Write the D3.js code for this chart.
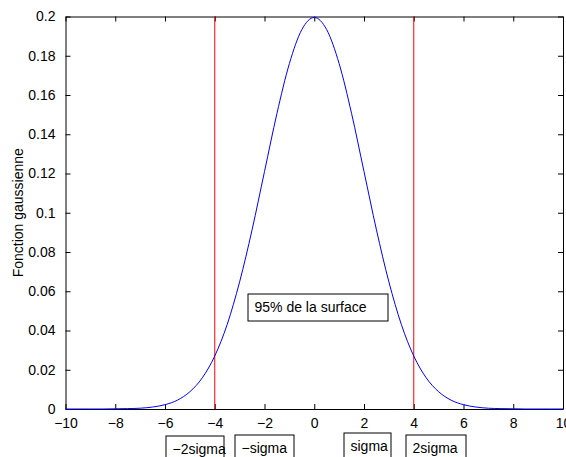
<!DOCTYPE html>
<html>
<head>
<meta charset="utf-8">
<script src="https://cdn.jsdelivr.net/npm/d3@7"></script>
<style>
  body { margin: 0; background: #fff; }
  text { font-family: "Liberation Sans", Arial, sans-serif; }
</style>
</head>
<body>
<div id="chart"></div>
<script>
// curve (x, gaussian value)
const xs = [-10, -9.5, -9, -8.5, -8, -7.5, -7, -6.5, -6, -5.5, -5, -4.5, -4, -3.5, -3, -2.5, -2, -1.5, -1, -0.5,
            0, 0.5, 1, 1.5, 2, 2.5, 3, 3.5, 4, 4.5, 5, 5.5, 6, 6.5, 7, 7.5, 8, 8.5, 9, 9.5, 10];
const ys = [0, 0, 0, 0, 0.0001, 0.0002, 0.0004, 0.0010, 0.0022, 0.0045, 0.0088, 0.0159, 0.0270, 0.0431, 0.0648, 0.0913, 0.1210, 0.1506, 0.1760, 0.1933,
            0.1995, 0.1933, 0.1760, 0.1506, 0.1210, 0.0913, 0.0648, 0.0431, 0.0270, 0.0159, 0.0088, 0.0045, 0.0022, 0.0010, 0.0004, 0.0002, 0.0001, 0, 0, 0, 0];
const redLines = [-4, 4];
const xTicks = [-10, -8, -6, -4, -2, 0, 2, 4, 6, 8, 10];
const yTicks = [0, 0.02, 0.04, 0.06, 0.08, 0.1, 0.12, 0.14, 0.16, 0.18, 0.2];
// text boxes: left / right edge x and top y in data units
const boxLabels = ["\u22122sigma", "\u2212sigma", "sigma", "2sigma"];
const boxX0 = [-6, -3.22, 1.17, 3.66];
const boxX1 = [-3.66, -0.85, 3.06, 6.08];
const boxY = [-0.0133, -0.0128, -0.0122, -0.0128];
const noteLabel = "95% de la surface";
const noteX0 = -2.7, noteX1 = 2.94;
const noteY = 0.0588;

const margin = { top: 16.5, right: 3, bottom: 48, left: 65.5 };
const W = 566, H = 457;
const width = W - margin.left - margin.right;
const height = H - margin.top - margin.bottom;

const svg = d3.select("#chart").append("svg")
    .attr("width", W).attr("height", H);
const g = svg.append("g")
    .attr("transform", "translate(" + margin.left + "," + margin.top + ")");

const x = d3.scaleLinear().domain([-10, 10]).range([0, width]);
const y = d3.scaleLinear().domain([0, 0.2]).range([height, 0]);

// axes with inward ticks
const fmt = d => (d < 0 ? "\u2212" + Math.abs(d) : String(d));
g.append("g").attr("transform", "translate(0," + height + ")")
  .call(d3.axisBottom(x).tickValues(xTicks).tickSizeInner(-5).tickSizeOuter(0).tickPadding(9).tickFormat(fmt));
g.append("g")
  .call(d3.axisLeft(y).tickValues(yTicks).tickSizeInner(-5).tickSizeOuter(0).tickPadding(10).tickFormat(d => String(+d.toFixed(2))));
g.append("g")
  .call(d3.axisTop(x).tickValues(xTicks).tickSizeInner(-5).tickSizeOuter(0).tickFormat(""));
g.append("g").attr("transform", "translate(" + width + ",0)")
  .call(d3.axisRight(y).tickValues(yTicks).tickSizeInner(-5).tickSizeOuter(0).tickFormat(""));
g.selectAll(".domain").attr("stroke", "#000");
g.selectAll(".tick line").attr("stroke", "#000");
g.selectAll(".tick text").attr("font-size", 14).attr("fill", "#000")
  .style("font-family", "Liberation Sans, Arial, sans-serif");

// red lines
g.selectAll(".red").data(redLines).enter().append("line")
  .attr("x1", d => x(d)).attr("x2", d => x(d))
  .attr("y1", 0).attr("y2", height)
  .attr("stroke", "#ff0000").attr("stroke-width", 1);

// gaussian curve
const pts = xs.map((v, i) => [v, ys[i]]);
g.append("path").datum(pts)
  .attr("fill", "none").attr("stroke", "#0000ff").attr("stroke-width", 1)
  .attr("d", d3.line().x(d => x(d[0])).y(d => y(d[1])).curve(d3.curveMonotoneX));

// boxed text
function boxText(label, bx0, bx1, by) {
  const bg = g.append("g").attr("transform", "translate(" + Math.round(x(bx0)) + "," + Math.round(y(by)) + ")");
  bg.append("rect")
    .attr("x", 0.5).attr("y", 0.5)
    .attr("width", Math.round(x(bx1) - x(bx0))).attr("height", 27)
    .attr("fill", "#fff").attr("stroke", "#000").attr("stroke-width", 1);
  bg.append("text")
    .attr("x", 7).attr("y", 18)
    .attr("font-size", 14).attr("fill", "#000").text(label);
}
boxLabels.forEach((l, i) => boxText(l, boxX0[i], boxX1[i], boxY[i]));
boxText(noteLabel, noteX0, noteX1, noteY);

// y label
svg.append("text")
  .attr("transform", "translate(23," + (margin.top + height / 2) + ") rotate(-90)")
  .attr("text-anchor", "middle").attr("font-size", 14).attr("fill", "#000")
  .text("Fonction gaussienne");
</script>
</body>
</html>
